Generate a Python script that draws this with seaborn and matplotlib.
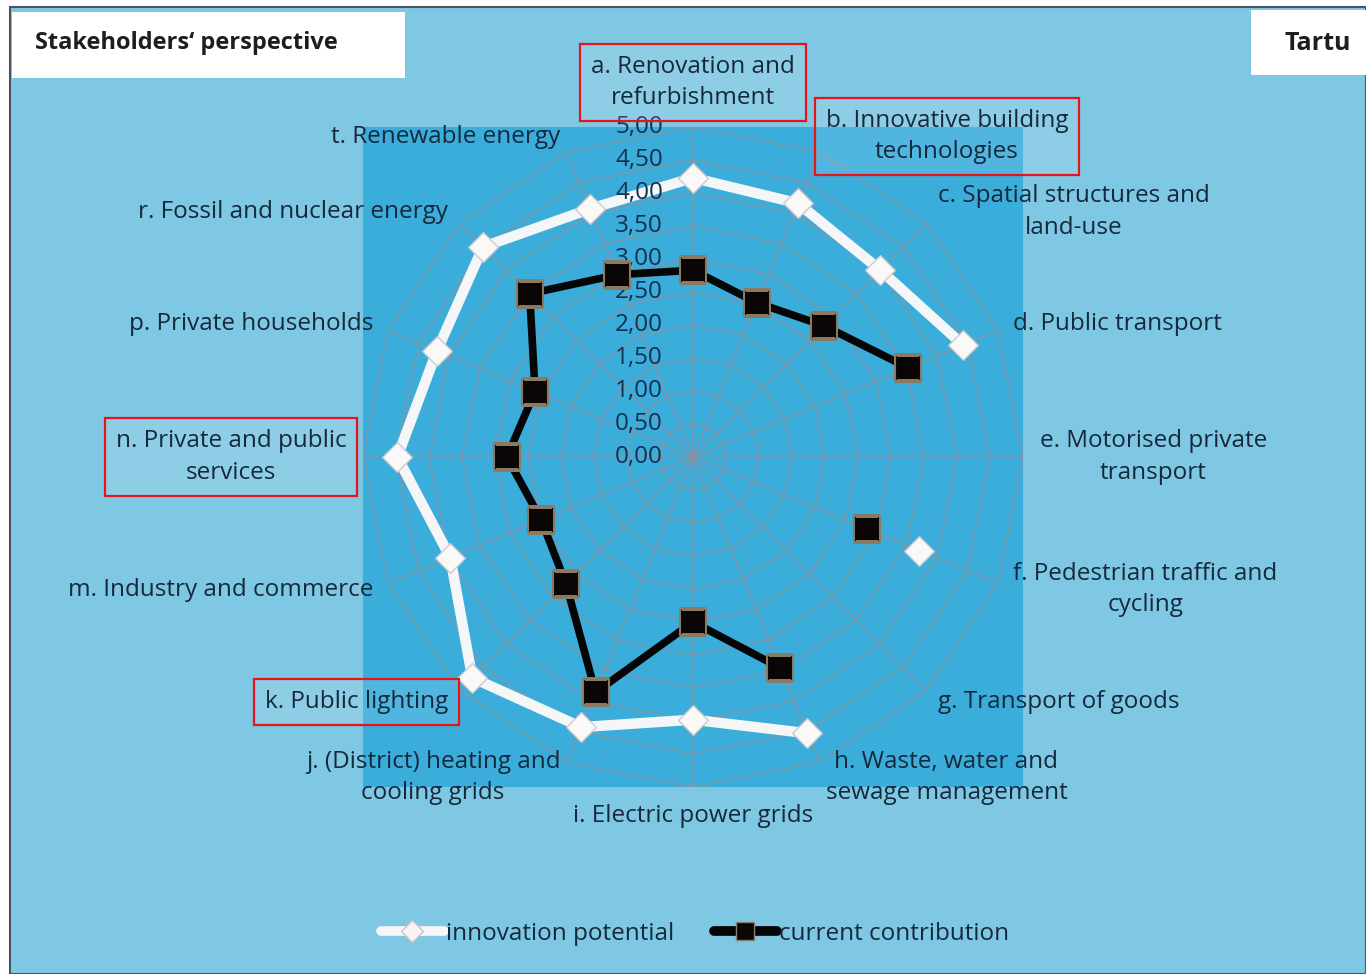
import numpy as np
import pandas as pd
import matplotlib
matplotlib.use("Agg")
import matplotlib.pyplot as plt
import matplotlib.transforms as mtransforms
from matplotlib.patches import Rectangle
from matplotlib.lines import Line2D
import seaborn as sns

sns.set_theme(style="white")
plt.rcParams['font.family'] = ['Open Sans', 'DejaVu Sans']

# ---------------- data ----------------
categories = [
    "a. Renovation and\nrefurbishment",
    "b. Innovative building\ntechnologies",
    "c. Spatial structures and\nland-use",
    "d. Public transport",
    "e. Motorised private\ntransport",
    "f. Pedestrian traffic and\ncycling",
    "g. Transport of goods",
    "h. Waste, water and\nsewage management",
    "i. Electric power grids",
    "j. (District) heating and\ncooling grids",
    "k. Public lighting",
    "m. Industry and commerce",
    "n. Private and public\nservices",
    "p. Private households",
    "r. Fossil and nuclear energy",
    "t. Renewable energy",
]
highlighted = ["a", "b", "k", "n"]
innovation_potential = [4.23, 4.16, 4.01, 4.43, np.nan, 3.71, np.nan, 4.53,
                        3.98, 4.43, 4.73, 3.98, 4.48, 4.20, 4.50, 4.07]
current_contribution = [2.83, 2.53, 2.81, 3.53, np.nan, 2.86, np.nan, 3.46,
                        2.50, 3.86, 2.72, 2.49, 2.82, 2.59, 3.50, 2.99]
tick_values = [0.0, 0.5, 1.0, 1.5, 2.0, 2.5, 3.0, 3.5, 4.0, 4.5, 5.0]
tick_labels = ["0,00", "0,50", "1,00", "1,50", "2,00", "2,50", "3,00",
               "3,50", "4,00", "4,50", "5,00"]
series_names = ["innovation potential", "current contribution"]
title_left = "Stakeholders\u2018 perspective"
title_right = "Tartu"

# ---------------- styling ----------------
W, H = 1366, 974
outer_bg = "#7ec8e3"
inner_bg = "#3aaddb"
grid_col = "#a8898c"
text_col = "#16283c"
FS = 17.5

fig = plt.figure(figsize=(W / 100, H / 100), dpi=100)
fig.patch.set_facecolor("white")

# outer background panel with dark border on top/left
bg = Rectangle((10 / W, 0), 1 - 10 / W, 1 - 7 / H, transform=fig.transFigure,
               facecolor=outer_bg, edgecolor="#4a5560", linewidth=1.5, zorder=-10)
fig.patches.append(bg)

# polar axes geometry
cx, cy, R = 693, 457, 330
left = (cx - R) / W
bottom = (H - cy - R) / H
ax_w = 2 * R / W
ax_h = 2 * R / H

inner = Rectangle((left, bottom), ax_w, ax_h, transform=fig.transFigure,
                  facecolor=inner_bg, edgecolor="none", zorder=-9)
fig.patches.append(inner)

ax = fig.add_axes([left, bottom, ax_w, ax_h], projection="polar")
ax.set_facecolor("none")
ax.set_theta_zero_location("N")
ax.set_theta_direction(-1)
ax.set_ylim(0, 5)
ax.grid(False)
ax.spines["polar"].set_visible(False)
ax.set_xticks([])
ax.set_yticks([])

n = len(categories)
theta = np.arange(n) * 2 * np.pi / n

# polygon grid
theta_closed = np.append(theta, 2 * np.pi)
for v in tick_values[1:]:
    ax.plot(theta_closed, np.full(n + 1, v), color=grid_col, lw=1.1, alpha=0.6, zorder=1)
for t in theta:
    ax.plot([t, t], [0, 5], color=grid_col, lw=1.1, alpha=0.6, zorder=1)

# tick labels
off = mtransforms.offset_copy(ax.transData, fig=fig, x=-30, y=0, units="dots")
for v, lab in zip(tick_values, tick_labels):
    ax.text(0, v, lab, transform=off, ha="right", va="center",
            fontsize=FS, color="#15304f", zorder=6)


def segments(vals):
    vals = list(vals) + [vals[0]]
    th = list(theta) + [2 * np.pi]
    rows, seg = [], 0
    for t, v in zip(th, vals):
        if np.isnan(v):
            seg += 1
            continue
        rows.append({"theta": t, "value": v, "seg": seg})
    return pd.DataFrame(rows)


df_w = segments(innovation_potential)
df_b = segments(current_contribution)

sns.lineplot(data=df_w, x="theta", y="value", units="seg", estimator=None,
             sort=False, color="#f4f6f8", linewidth=7.5, ax=ax, legend=False, zorder=3)
sns.lineplot(data=df_b, x="theta", y="value", units="seg", estimator=None,
             sort=False, color="#050505", linewidth=5.5, ax=ax, legend=False, zorder=4)

pts_w = pd.DataFrame({"theta": theta, "value": innovation_potential}).dropna()
pts_b = pd.DataFrame({"theta": theta, "value": current_contribution}).dropna()
sns.scatterplot(data=pts_w, x="theta", y="value", marker="D", s=230,
                color="#fbf8f8", edgecolor="#cfc8cc", linewidth=1.0, ax=ax,
                legend=False, zorder=5)
sns.scatterplot(data=pts_b, x="theta", y="value", marker="s", s=330,
                color="#0a0606", edgecolor="#8a7a62", linewidth=1.5, ax=ax,
                legend=False, zorder=6)
ax.set_xlabel("")
ax.set_ylabel("")
ax.set_ylim(0, 5)

# category labels
label_r = 5.25
for t, lab in zip(theta, categories):
    deg = np.degrees(t) % 360
    if np.isclose(deg, 0):
        ha, va = "center", "bottom"
    elif np.isclose(deg, 180):
        ha, va = "center", "top"
    elif deg < 180:
        ha, va = "left", "center"
    else:
        ha, va = "right", "center"
    kw = {}
    if lab[0] in highlighted:
        kw["bbox"] = dict(boxstyle="square,pad=0.45", facecolor=(1, 1, 1, 0.12),
                          edgecolor="#e8141c", linewidth=1.6)
    ax.text(t, label_r, lab, ha=ha, va=va, multialignment="center",
            fontsize=FS, color=text_col, linespacing=1.4, zorder=7, **kw)

# title boxes
fig.patches.append(Rectangle((12 / W, 1 - 78 / H), (405 - 12) / W, 66 / H,
                             transform=fig.transFigure, facecolor="white",
                             edgecolor="none", zorder=-5))
fig.text(35 / W, 1 - 43 / H, title_left, ha="left", va="center",
         fontsize=17, fontweight="bold", color="#1e1e1e")
fig.patches.append(Rectangle((1251 / W, 1 - 75 / H), (1366 - 1251) / W, 65 / H,
                             transform=fig.transFigure, facecolor="white",
                             edgecolor="none", zorder=-5))
fig.text(1318 / W, 1 - 43 / H, title_right, ha="center", va="center",
         fontsize=18, fontweight="bold", color="#1e1e1e")

# legend
handles = [
    Line2D([], [], color="#f4f6f8", lw=7, marker="D", markersize=11,
           markerfacecolor="#f8f4f4", markeredgecolor="#c9c4c8"),
    Line2D([], [], color="#050505", lw=7, marker="s", markersize=13,
           markerfacecolor="#0a0606", markeredgecolor="#8a7d70"),
]
fig.legend(handles, series_names, loc="center", bbox_to_anchor=(695 / W, 1 - 934 / H),
           ncol=2, frameon=False, fontsize=FS, handlelength=2.6, handletextpad=0.1,
           columnspacing=1.6, labelcolor=text_col)

fig.savefig("out.png", dpi=100)
